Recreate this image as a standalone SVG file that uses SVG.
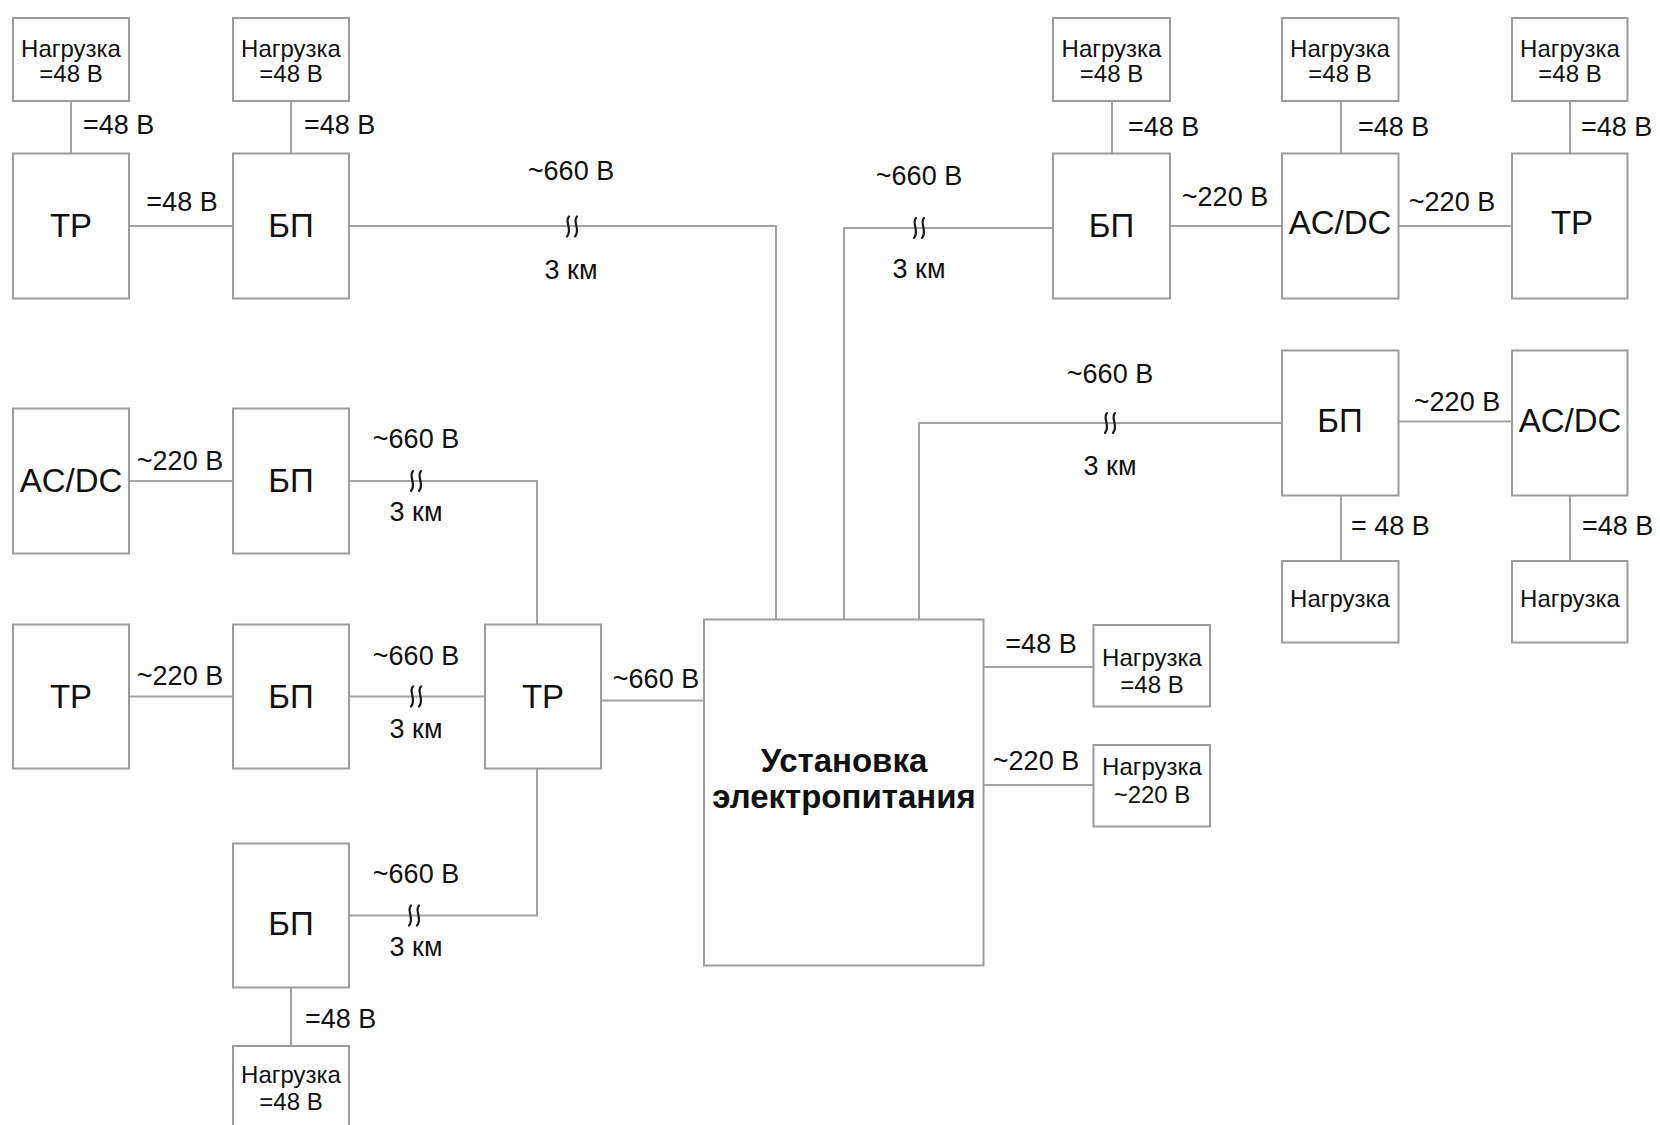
<svg xmlns="http://www.w3.org/2000/svg" width="1660" height="1125" viewBox="0 0 1660 1125">
<defs>
<style>
.box{fill:#fff;stroke:#9c9c9c;stroke-width:2}
.ln{fill:none;stroke:#a3a3a3;stroke-width:2}
.wv{fill:none;stroke:#1a1a1a;stroke-width:2.2;stroke-linecap:round}
text{font-family:"Liberation Sans",Arial,sans-serif;fill:#111}
.lbl{font-size:27px}
.lc{font-size:27px;text-anchor:middle}
.big{font-size:33px;text-anchor:middle}
.ld{font-size:24px;text-anchor:middle}
.main{font-size:33px;font-weight:bold;text-anchor:middle}
</style>
<g id="wave">
<path class="wv" d="M-3,-10 C-8,-5 1,3 -5,10"/>
<path class="wv" d="M5,-10 C0,-5 9,3 3,10"/>
</g>
</defs>
<rect width="1660" height="1125" fill="#fff"/>

<g id="connectors">
<path class="ln" d="M71,101 V153.5"/>
<path class="ln" d="M129,226 H233"/>
<path class="ln" d="M291,101 V153.5"/>
<path class="ln" d="M349,226 H776 V619"/>
<path class="ln" d="M844,619 V228 H1053"/>
<path class="ln" d="M1112,101 V153.5"/>
<path class="ln" d="M1170,226 H1282"/>
<path class="ln" d="M1341,101 V153.5"/>
<path class="ln" d="M1398.5,226 H1512"/>
<path class="ln" d="M1570,101 V153.5"/>
<path class="ln" d="M919,619 V423 H1282"/>
<path class="ln" d="M1398.5,421.5 H1512"/>
<path class="ln" d="M1341,495.5 V561"/>
<path class="ln" d="M1570,495.5 V561"/>
<path class="ln" d="M983.5,667 H1093.5"/>
<path class="ln" d="M983.5,785 H1093.5"/>
<path class="ln" d="M129,481 H233"/>
<path class="ln" d="M349,481 H537 V624.5"/>
<path class="ln" d="M129,696.5 H233"/>
<path class="ln" d="M349,696.5 H485"/>
<path class="ln" d="M601,700.5 H704"/>
<path class="ln" d="M537,768.5 V915.5 H349"/>
<path class="ln" d="M291,987.5 V1046"/>
<use href="#wave" x="572" y="226.5"/>
<use href="#wave" x="919" y="228"/>
<use href="#wave" x="1110" y="423"/>
<use href="#wave" x="416" y="481"/>
<use href="#wave" x="416" y="696.5"/>
<use href="#wave" x="414" y="915.5"/>
<text class="lbl" x="83" y="134">=48 В</text>
<text class="lc" x="182" y="211">=48 В</text>
<text class="lbl" x="304" y="134">=48 В</text>
<text class="lc" x="571" y="180">~660 В</text>
<text class="lc" x="571" y="279">3 км</text>
<text class="lc" x="919" y="185">~660 В</text>
<text class="lc" x="919" y="278">3 км</text>
<text class="lbl" x="1128" y="136">=48 В</text>
<text class="lc" x="1225" y="206">~220 В</text>
<text class="lbl" x="1358" y="136">=48 В</text>
<text class="lc" x="1452" y="211">~220 В</text>
<text class="lbl" x="1581" y="136">=48 В</text>
<text class="lc" x="1110" y="383">~660 В</text>
<text class="lc" x="1110" y="475">3 км</text>
<text class="lc" x="1457" y="411">~220 В</text>
<text class="lbl" x="1351" y="535">= 48 В</text>
<text class="lbl" x="1582" y="535">=48 В</text>
<text class="lc" x="1041" y="653">=48 В</text>
<text class="lc" x="1036" y="770">~220 В</text>
<text class="lc" x="180" y="470">~220 В</text>
<text class="lc" x="416" y="448">~660 В</text>
<text class="lc" x="416" y="521">3 км</text>
<text class="lc" x="180" y="685">~220 В</text>
<text class="lc" x="416" y="665">~660 В</text>
<text class="lc" x="416" y="738">3 км</text>
<text class="lc" x="656" y="688">~660 В</text>
<text class="lc" x="416" y="883">~660 В</text>
<text class="lc" x="416" y="956">3 км</text>
<text class="lbl" x="305" y="1028">=48 В</text>
</g>

<g id="load-a"><rect class="box" x="13" y="18" width="116" height="83"/><text class="ld" x="71" y="57">Нагрузка</text><text class="ld" x="71" y="82">=48 В</text></g>
<g id="tp-a"><rect class="box" x="13" y="153.5" width="116" height="145"/><text class="big" x="71" y="237">ТР</text></g>
<g id="bp-a"><rect class="box" x="233" y="153.5" width="116" height="145"/><text class="big" x="291" y="237">БП</text></g>
<g id="load-b"><rect class="box" x="233" y="18" width="116" height="83"/><text class="ld" x="291" y="57">Нагрузка</text><text class="ld" x="291" y="82">=48 В</text></g>

<g id="bp-b"><rect class="box" x="1053" y="153.5" width="117" height="145"/><text class="big" x="1111.5" y="237">БП</text></g>
<g id="load-c"><rect class="box" x="1053" y="18" width="117" height="83"/><text class="ld" x="1111.5" y="57">Нагрузка</text><text class="ld" x="1111.5" y="82">=48 В</text></g>
<g id="acdc-a"><rect class="box" x="1282" y="153.5" width="116.5" height="145"/><text class="big" x="1340" y="234">AC/DC</text></g>
<g id="load-d"><rect class="box" x="1282" y="18" width="116.5" height="83"/><text class="ld" x="1340" y="57">Нагрузка</text><text class="ld" x="1340" y="82">=48 В</text></g>
<g id="tp-b"><rect class="box" x="1512" y="153.5" width="115.5" height="145"/><text class="big" x="1572" y="234">ТР</text></g>
<g id="load-e"><rect class="box" x="1512" y="18" width="115.5" height="83"/><text class="ld" x="1570" y="57">Нагрузка</text><text class="ld" x="1570" y="82">=48 В</text></g>

<g id="bp-c"><rect class="box" x="1282" y="350.5" width="116.5" height="145"/><text class="big" x="1340" y="432">БП</text></g>
<g id="acdc-b"><rect class="box" x="1512" y="350.5" width="115.5" height="145"/><text class="big" x="1570" y="432">AC/DC</text></g>
<g id="load-f"><rect class="box" x="1282" y="561" width="116.5" height="81.5"/><text class="ld" x="1340" y="607">Нагрузка</text></g>
<g id="load-g"><rect class="box" x="1512" y="561" width="115.5" height="81.5"/><text class="ld" x="1570" y="607">Нагрузка</text></g>

<g id="main"><rect class="box" x="704" y="619.5" width="279.5" height="346"/><text class="main" x="844" y="772">Установка</text><text class="main" x="844" y="808">электропитания</text></g>
<g id="load-h"><rect class="box" x="1093.5" y="625" width="116.5" height="81.5"/><text class="ld" x="1152" y="666">Нагрузка</text><text class="ld" x="1152" y="693">=48 В</text></g>
<g id="load-i"><rect class="box" x="1093.5" y="745" width="116.5" height="81.5"/><text class="ld" x="1152" y="775">Нагрузка</text><text class="ld" x="1152" y="803">~220 В</text></g>

<g id="acdc-c"><rect class="box" x="13" y="408.5" width="116" height="145"/><text class="big" x="71" y="492">AC/DC</text></g>
<g id="bp-d"><rect class="box" x="233" y="408.5" width="116" height="145"/><text class="big" x="291" y="492">БП</text></g>
<g id="tp-d"><rect class="box" x="13" y="624.5" width="116" height="144"/><text class="big" x="71" y="708">ТР</text></g>
<g id="bp-e"><rect class="box" x="233" y="624.5" width="116" height="144"/><text class="big" x="291" y="708">БП</text></g>
<g id="tp-c"><rect class="box" x="485" y="624.5" width="116" height="144"/><text class="big" x="543" y="708">ТР</text></g>
<g id="bp-f"><rect class="box" x="233" y="843.5" width="116" height="144"/><text class="big" x="291" y="935">БП</text></g>
<g id="load-j"><rect class="box" x="233" y="1046" width="116" height="90"/><text class="ld" x="291" y="1083">Нагрузка</text><text class="ld" x="291" y="1110">=48 В</text></g>
</svg>
